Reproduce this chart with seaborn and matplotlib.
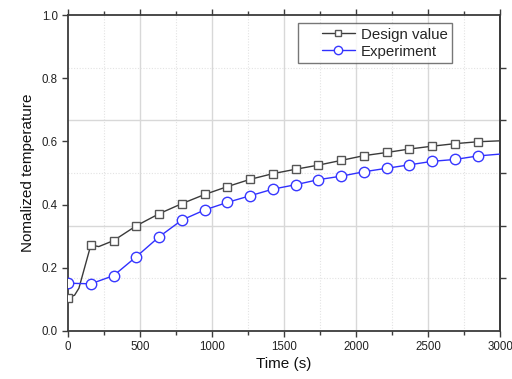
import matplotlib
matplotlib.use("Agg")
import matplotlib.pyplot as plt
from matplotlib.ticker import MultipleLocator
from matplotlib.legend_handler import HandlerLine2D
import seaborn as sns
import pandas as pd

# Design curve, sampled densely near the start where it jumps
design_time = [0, 45, 75, 158, 213, 316, 474, 632, 790, 948, 1106, 1264, 1422,
               1580, 1738, 1896, 2054, 2212, 2370, 2528, 2686, 2844, 3000]
design_value = [0.105, 0.113, 0.135, 0.272, 0.267, 0.286, 0.333, 0.371, 0.403,
                0.432, 0.457, 0.480, 0.498, 0.512, 0.525, 0.540, 0.555, 0.565,
                0.576, 0.585, 0.593, 0.599, 0.602]
# Indices of the design samples that carry a square marker
design_marked = [0, 3] + list(range(5, 22))

exp_time = [0, 158, 316, 474, 632, 790, 948, 1106, 1264, 1422, 1580, 1738,
            1896, 2054, 2212, 2370, 2528, 2686, 2844, 3000]
experiment = [0.151, 0.149, 0.175, 0.235, 0.298, 0.351, 0.383, 0.407, 0.428,
              0.449, 0.463, 0.479, 0.490, 0.504, 0.515, 0.526, 0.537, 0.543,
              0.554, 0.560]
exp_marked = list(range(19))

series_names = ["Design value", "Experiment"]
x_ticks = [0, 500, 1000, 1500, 2000, 2500, 3000]
y_ticks = [0.0, 0.2, 0.4, 0.6, 0.8, 1.0]

df_design = pd.DataFrame({"time": design_time, "value": design_value})
df_exp = pd.DataFrame({"time": exp_time, "value": experiment})


class IndentedLineHandler(HandlerLine2D):
    """Legend line sample drawn with a blank gap before it."""

    def __init__(self, indent=14.0, **kw):
        super().__init__(**kw)
        self.indent = indent

    def create_artists(self, legend, orig_handle, xdescent, ydescent,
                       width, height, fontsize, trans):
        return super().create_artists(legend, orig_handle,
                                      xdescent - self.indent, ydescent,
                                      width - self.indent, height,
                                      fontsize, trans)


sns.set_style("white")
plt.rcParams["font.family"] = ["Liberation Sans", "DejaVu Sans"]

fig = plt.figure(figsize=(5.12, 3.79), dpi=100)
ax = fig.add_axes([0.133, 0.127, 0.844, 0.833])

sns.lineplot(data=df_design, x="time", y="value", ax=ax, color="#3a3a3a",
             lw=1.0, marker="s", markersize=5.8, markerfacecolor="white",
             markeredgecolor="#555555", markeredgewidth=1.0,
             markevery=design_marked, label=series_names[0], zorder=3)
sns.lineplot(data=df_exp, x="time", y="value", ax=ax, color="#3030ff",
             lw=1.0, marker="o", markersize=7.5, markerfacecolor="white",
             markeredgecolor="#3838ff", markeredgewidth=1.0,
             markevery=exp_marked, label=series_names[1], zorder=3)

ax.set_xlim(0, 3000)
ax.set_ylim(0, 1.0)
ax.set_xticks(x_ticks)
ax.set_yticks(y_ticks)
ax.set_yticklabels([f"{v:.1f}" for v in y_ticks])
ax.xaxis.set_minor_locator(MultipleLocator(250))

# Background grid: solid on majors, dotted on the in-between lines
ax.grid(False)
for xv in range(500, 3000, 500):
    ax.axvline(xv, color="#d8d8d8", lw=1.0, zorder=0)
for xv in range(250, 3000, 500):
    ax.axvline(xv, color="#e3e3e3", lw=0.8, ls=(0, (1, 1.5)), zorder=0)
for yv in [1 / 3, 2 / 3]:
    ax.axhline(yv, color="#d8d8d8", lw=1.0, zorder=0)
for yv in [1 / 6, 0.5, 5 / 6]:
    ax.axhline(yv, color="#e3e3e3", lw=0.8, ls=(0, (1, 1.5)), zorder=0)

for s in ax.spines.values():
    s.set_color("#3c3c3c")
    s.set_linewidth(1.3)

ax.tick_params(which="both", direction="out", colors="#3c3c3c",
               labelcolor="#222222", labelsize=8.3, width=1.0,
               bottom=True, left=True, top=True, right=False)
ax.tick_params(which="major", length=4)
ax.tick_params(which="minor", length=3)
ax.tick_params(axis="x", which="both", labeltop=False)

sec = ax.secondary_yaxis("right")
sec.set_yticks([1 / 6, 1 / 3, 0.5, 2 / 3, 5 / 6])
sec.set_yticklabels([])
sec.tick_params(direction="out", length=4, width=1.0, colors="#3c3c3c")
sec.spines["right"].set_color("#3c3c3c")
sec.spines["right"].set_linewidth(1.3)

ax.set_xlabel("Time (s)", fontsize=11, color="#111111", labelpad=3)
ax.set_ylabel("Nomalized temperature", fontsize=11, color="#111111", labelpad=5)

handles, labels = ax.get_legend_handles_labels()
leg = ax.legend(handles, labels, loc="upper left",
                bbox_to_anchor=(0.531, 0.975), fontsize=10.8,
                frameon=True, fancybox=False, borderpad=0.3,
                handlelength=3.5, handletextpad=0.4, labelspacing=0.2,
                borderaxespad=0, markerscale=0.8,
                handler_map={h: IndentedLineHandler(indent=14.0)
                             for h in handles})
leg.get_frame().set_edgecolor("#555555")
leg.get_frame().set_linewidth(1.0)

fig.savefig("out.png", dpi=100)
